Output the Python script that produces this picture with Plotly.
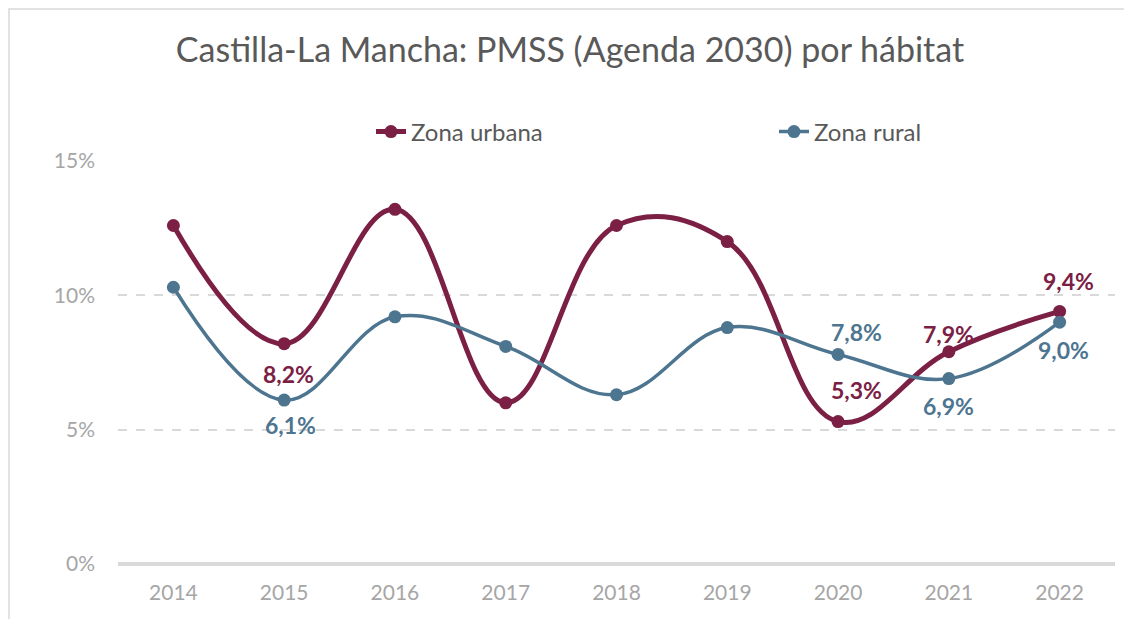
import plotly.graph_objects as go

years = ["2014", "2015", "2016", "2017", "2018", "2019", "2020", "2021", "2022"]
urbana = [12.6, 8.2, 13.2, 6.0, 12.6, 12.0, 5.3, 7.9, 9.4]
rural = [10.3, 6.1, 9.2, 8.1, 6.3, 8.8, 7.8, 6.9, 9.0]

# which points carry a data label (index list)
urbana_labelled = [1, 6, 7, 8]
rural_labelled = [1, 6, 7, 8]
# label offsets in pixels (dx, dy) – styling only
urbana_offsets = [(4, -30), (18, 32), (0, 18), (9, 30)]
rural_offsets = [(6, -25), (18, 22), (0, -27), (4, -28)]

c_urb = "#7B2044"
c_rur = "#4D7590"
FONT = "Lato"

W, H = 1124, 611
L, R, T, B = 110, 17, 153, 55
PW, PH = W - L - R, H - T - B

fig = go.Figure()
fig.add_trace(go.Scatter(
    x=years, y=urbana, name="Zona urbana", mode="lines+markers",
    line=dict(color=c_urb, width=5, shape="spline", smoothing=1.15),
    marker=dict(size=13, color=c_urb)))
fig.add_trace(go.Scatter(
    x=years, y=rural, name="Zona rural", mode="lines+markers",
    line=dict(color=c_rur, width=3.5, shape="spline", smoothing=1.1),
    marker=dict(size=13, color=c_rur)))


def fmt(v):
    return f"{v:.1f}".replace(".", ",") + "%"


for vals, idxs, offs, col in [(urbana, urbana_labelled, urbana_offsets, c_urb),
                              (rural, rural_labelled, rural_offsets, c_rur)]:
    for i, (dx, dy) in zip(idxs, offs):
        fig.add_annotation(x=i, y=vals[i], xref="x", yref="y",
                           text="<b>" + fmt(vals[i]) + "</b>",
                           showarrow=False, xshift=dx, yshift=dy,
                           font=dict(family=FONT, size=23, color=col))

fig.update_layout(
    width=W, height=H,
    margin=dict(l=L, r=R, t=T, b=B, autoexpand=False),
    paper_bgcolor="white", plot_bgcolor="white",
    title=dict(text="Castilla-La Mancha: PMSS (Agenda 2030) por hábitat",
               x=0.5, xref="container", y=1 - 42 / H, yref="container", yanchor="middle",
               font=dict(family=FONT, size=34, color="#595959")),
    legend=dict(orientation="h", xref="container", yref="container",
                x=363 / W, xanchor="left", y=1 - 124 / H, yanchor="middle",
                entrywidth=358, entrywidthmode="pixels",
                font=dict(family=FONT, size=24, color="#595959"), bgcolor="rgba(0,0,0,0)"),
    xaxis=dict(type="category", range=[-0.5, 8.5], showgrid=False, showline=False,
               ticks="", tickfont=dict(family=FONT, size=21, color="#A6A6A6"), ticklabelstandoff=14),
    yaxis=dict(range=[0, 15], tickvals=[0, 5, 10, 15], ticktext=["0%", "5%", "10%", "15%"],
               showgrid=True, gridcolor="#D9D9D9", griddash="dash", gridwidth=1.5,
               zeroline=True, zerolinecolor="#D9D9D9", zerolinewidth=4,
               tickfont=dict(family=FONT, size=21, color="#A6A6A6"), ticklabelstandoff=22),
    shapes=[dict(type="rect", xref="paper", yref="paper",
                 x0=(1 - L) / PW, x1=(W + 20 - L) / PW,
                 y0=-(B + 20) / PH, y1=(H - 1 - B) / PH,
                 line=dict(color="#D9D9D9", width=1.5), fillcolor="rgba(0,0,0,0)", layer="below")],
)
fig.write_html("out.html")
